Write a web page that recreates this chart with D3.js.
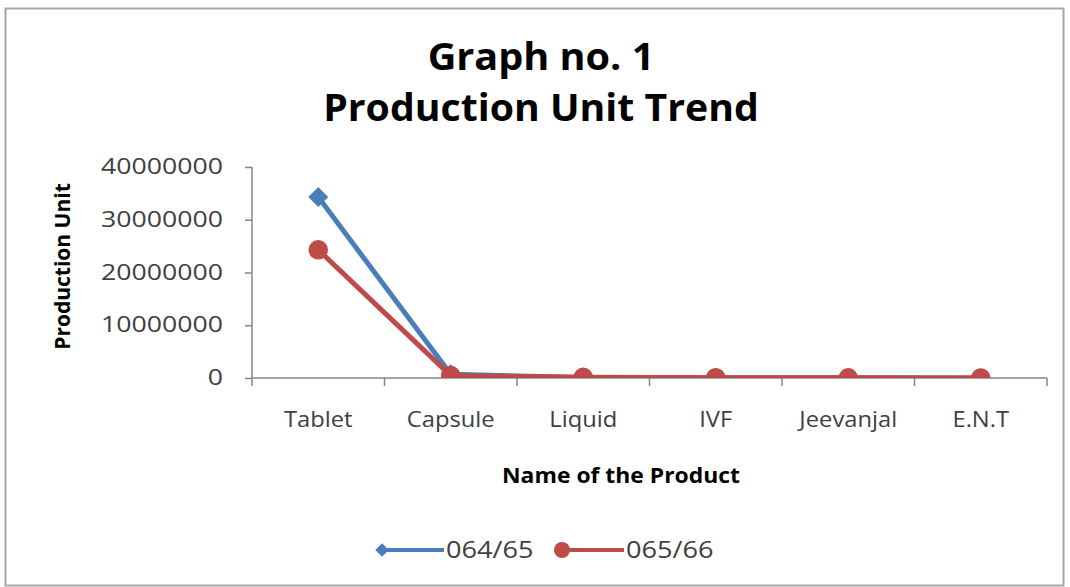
<!DOCTYPE html>
<html>
<head>
<meta charset="utf-8">
<script src="https://cdn.jsdelivr.net/npm/d3@7"></script>
<style>
  body { margin: 0; background: #fff; }
  text { font-family: "Open Sans", sans-serif; }
</style>
</head>
<body>
<div id="chart"></div>
<script>
// data
var products = ["Tablet", "Capsule", "Liquid", "IVF", "Jeevanjal", "E.N.T"];
var units0645 = [34300000, 700000, 100000, 40000, 25000, 5000];
var units0656 = [24300000, 450000, 120000, 50000, 30000, 8000];
var yTicks = [0, 10000000, 20000000, 30000000, 40000000];
var seriesNames = ["064/65", "065/66"];

var W = 1070, H = 587;
var margin = { top: 167, right: 23, bottom: 209, left: 252 },
  width = W - margin.left - margin.right,
  height = H - margin.top - margin.bottom;

var blue = "#4a7ebb", red = "#be4b48", axisColor = "#868686";

// stretch text a little to match the wide look of the original
function widen(sel, f) {
  sel.each(function () {
    var len = this.getComputedTextLength();
    d3.select(this).attr("textLength", len * f).attr("lengthAdjust", "spacingAndGlyphs");
  });
}

var svg = d3.select("#chart").append("svg")
  .attr("width", W)
  .attr("height", H);

// outer frame
svg.append("rect")
  .attr("x", 5.5).attr("y", 8.5)
  .attr("width", 1058).attr("height", 577)
  .attr("fill", "none")
  .attr("stroke", "#a6a6a6")
  .attr("stroke-width", 2);

// titles
var t1 = svg.append("text")
  .attr("x", 541).attr("y", 70)
  .attr("text-anchor", "middle")
  .style("font-size", "37px").style("font-weight", "bold")
  .attr("fill", "#000")
  .text("Graph no. 1");
var t2 = svg.append("text")
  .attr("x", 541).attr("y", 121)
  .attr("text-anchor", "middle")
  .style("font-size", "37px").style("font-weight", "bold")
  .attr("fill", "#000")
  .text("Production Unit Trend");
widen(t1, 1.07);
widen(t2, 1.06);

var g = svg.append("g")
  .attr("transform", "translate(" + margin.left + "," + margin.top + ")");

var x = d3.scaleBand().domain(products).range([0, width]);
var y = d3.scaleLinear().domain([0, 40000000]).range([height, 0]);

// y axis
var yAxis = d3.axisLeft(y).tickValues(yTicks).tickSize(7).tickPadding(22)
  .tickFormat(d3.format("d"));
var ya = g.append("g").attr("class", "y axis").call(yAxis);

// x axis with ticks at band edges
var xAxis = d3.axisBottom(x).tickSize(0).tickPadding(34);
var xa = g.append("g").attr("class", "x axis")
  .attr("transform", "translate(0," + height + ")")
  .call(xAxis);
xa.selectAll(".edge")
  .data(d3.range(products.length + 1))
  .enter().append("line")
  .attr("class", "edge")
  .attr("x1", function (i) { return i * x.bandwidth(); })
  .attr("x2", function (i) { return i * x.bandwidth(); })
  .attr("y1", 0).attr("y2", 8)
  .attr("stroke", axisColor).attr("stroke-width", 1.5);

[ya, xa].forEach(function (a) {
  a.select(".domain").attr("stroke", axisColor).attr("stroke-width", 1.5);
  a.selectAll(".tick line").attr("stroke", axisColor).attr("stroke-width", 1.5);
  a.selectAll(".tick text")
    .attr("fill", "#404040")
    .style("font-size", "21px")
    .style("font-family", "'Open Sans', sans-serif");
});
ya.select(".domain").attr("d", "M0," + height + "V0");
xa.select(".domain").attr("d", "M0,0H" + width);
widen(ya.selectAll(".tick text"), 1.27);
widen(xa.selectAll(".tick text"), 1.13);

// axis titles
g.append("text")
  .attr("transform", "translate(-182," + (height / 2 - 6) + ") rotate(-90)")
  .attr("text-anchor", "middle")
  .style("font-size", "21px").style("font-weight", "bold")
  .attr("fill", "#000")
  .text("Production Unit");
var xt = g.append("text")
  .attr("x", 369).attr("y", height + 105)
  .attr("text-anchor", "middle")
  .style("font-size", "21px").style("font-weight", "bold")
  .attr("fill", "#000")
  .text("Name of the Product");
widen(xt, 1.09);

// clip to plot area
g.append("clipPath").attr("id", "clip")
  .append("rect").attr("x", 0).attr("y", -20)
  .attr("width", width).attr("height", height + 20);

var plot = g.append("g").attr("clip-path", "url(#clip)");

var line = d3.line()
  .x(function (d, i) { return x(products[i]) + x.bandwidth() / 2; })
  .y(function (d) { return y(d); });

var series = [
  { name: seriesNames[0], values: units0645, color: blue, shape: d3.symbolSquare, rot: 45, size: 200 },
  { name: seriesNames[1], values: units0656, color: red, shape: d3.symbolCircle, rot: 0, size: 300 }
];

series.forEach(function (s) {
  plot.append("path")
    .datum(s.values)
    .attr("d", line)
    .attr("fill", "none")
    .attr("stroke", s.color)
    .attr("stroke-width", 5)
    .attr("stroke-linejoin", "round");
  plot.selectAll(".m" + s.name.replace("/", ""))
    .data(s.values)
    .enter().append("path")
    .attr("transform", function (d, i) {
      return "translate(" + (x(products[i]) + x.bandwidth() / 2) + "," + y(d) + ") rotate(" + s.rot + ")";
    })
    .attr("d", d3.symbol().type(s.shape).size(s.size))
    .attr("fill", s.color);
});

// legend
var legendPos = [[382, 550], [562, 550]];
series.forEach(function (s, i) {
  var lg = svg.append("g").attr("transform", "translate(" + legendPos[i][0] + "," + legendPos[i][1] + ")");
  lg.append("line").attr("x1", 0).attr("x2", 62)
    .attr("stroke", s.color).attr("stroke-width", 4);
  lg.append("path")
    .attr("transform", "rotate(" + s.rot + ")")
    .attr("d", d3.symbol().type(s.shape).size(i === 0 ? 90 : 200))
    .attr("fill", s.color);
  var lt = lg.append("text")
    .attr("x", 64).attr("y", 8)
    .style("font-size", "23px")
    .attr("fill", "#404040")
    .text(s.name);
  widen(lt, 1.18);
});
</script>
</body>
</html>
